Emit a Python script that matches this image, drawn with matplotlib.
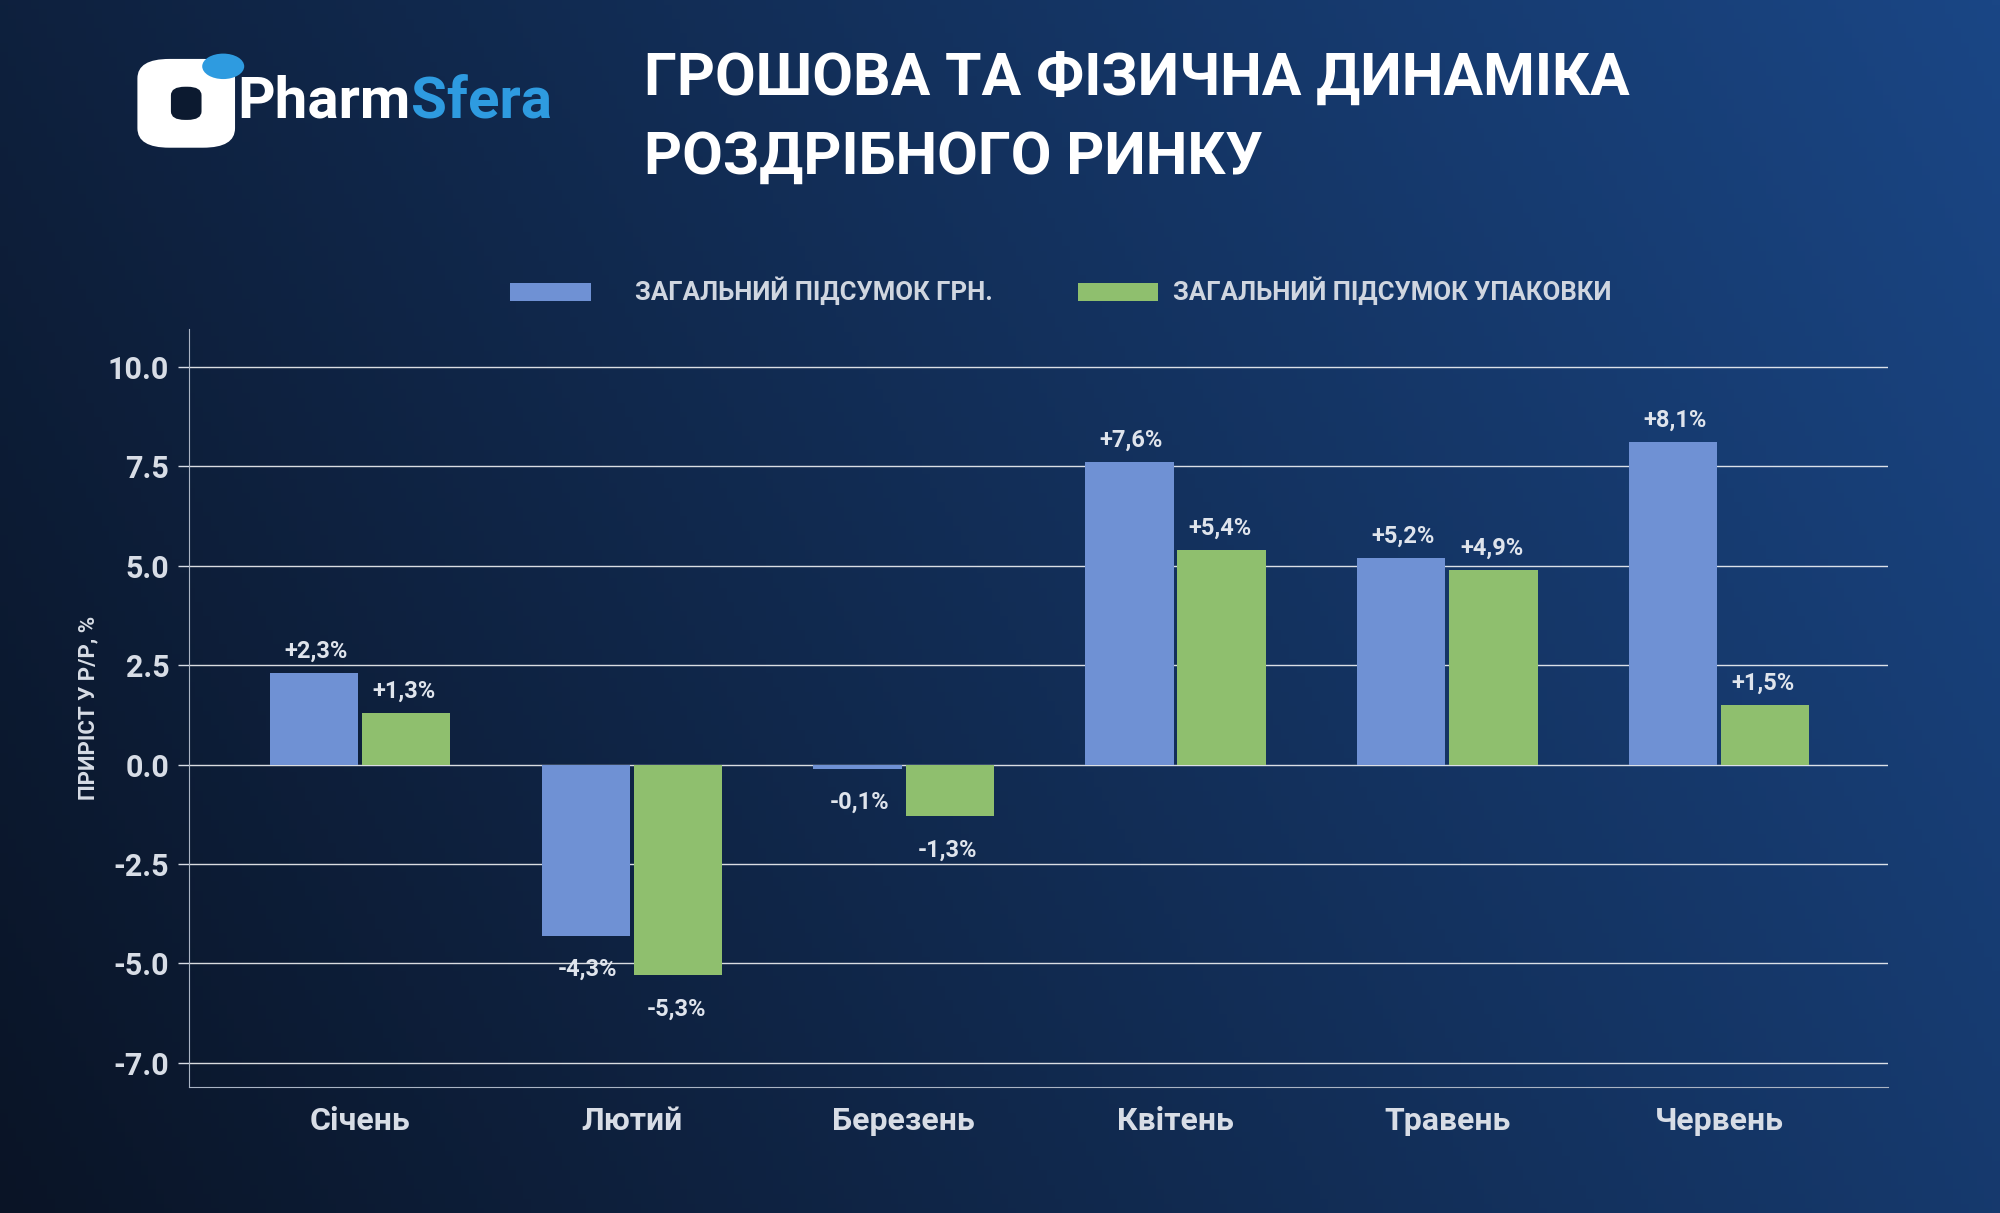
import matplotlib
matplotlib.use("Agg")
import matplotlib.pyplot as plt
import numpy as np
from matplotlib.patches import FancyBboxPatch, Circle, Rectangle

months = ["Січень", "Лютий", "Березень", "Квітень", "Травень", "Червень"]
uah = [2.3, -4.3, -0.1, 7.6, 5.2, 8.1]
packs = [1.3, -5.3, -1.3, 5.4, 4.9, 1.5]
uah_labels = ["+2,3%", "-4,3%", "-0,1%", "+7,6%", "+5,2%", "+8,1%"]
pack_labels = ["+1,3%", "-5,3%", "-1,3%", "+5,4%", "+4,9%", "+1,5%"]
yticks = [10.0, 7.5, 5.0, 2.5, 0.0, -2.5, -5.0, -7.5]
ytick_labels = ["10.0", "7.5", "5.0", "2.5", "0.0", "-2.5", "-5.0", "-7.0"]

plt.rcParams['font.family'] = ['Roboto', 'DejaVu Sans']
W, H = 1568, 951
fig = plt.figure(figsize=(20, 12.13), dpi=100)

bg = fig.add_axes([0, 0, 1, 1])
x = np.linspace(0, 1, 256)
y = np.linspace(0, 1, 256)
X, Y = np.meshgrid(x, y)
t = np.clip(0.75 * X + 0.25 * (1 - Y), 0, 1)
c0 = np.array([0x0a, 0x14, 0x26]) / 255
c1 = np.array([0x1a, 0x46, 0x85]) / 255
img = c0[None, None, :] * (1 - t[..., None]) + c1[None, None, :] * t[..., None]
bg.imshow(img, extent=[0, 1, 0, 1], aspect='auto', origin='upper')
bg.set_xlim(0, 1); bg.set_ylim(0, 1); bg.axis('off')

def fx(px): return px / W
def fy(py): return 1 - py / H

# logo
bg.add_patch(FancyBboxPatch((fx(114), fy(112)), fx(64), fy(50) - fy(112), boxstyle="round,pad=0.004,rounding_size=0.016",
                            fc='white', ec='none', transform=bg.transAxes))
bg.add_patch(FancyBboxPatch((fx(134), fy(94)), fx(24), fy(68) - fy(94), boxstyle="round,pad=0,rounding_size=0.007",
                            fc='#0c1a30', ec='none', transform=bg.transAxes))
bg.add_patch(Circle((fx(175), fy(52)), 0.0105, fc='#2e9be0', ec='none', transform=bg.transAxes))
tx = bg.text(fx(186), fy(80), "Pharm", color='white', fontsize=42, fontweight='bold', va='center', ha='left')
fig.canvas.draw()
bb = tx.get_window_extent().transformed(bg.transAxes.inverted())
bg.text(bb.x1, fy(80), "Sfera", color='#2e9be0', fontsize=42, fontweight='bold', va='center', ha='left')

bg.text(fx(505), fy(62), "ГРОШОВА ТА ФІЗИЧНА ДИНАМІКА", color='white', fontsize=42.5, fontweight='bold', va='center')
bg.text(fx(505), fy(124), "РОЗДРІБНОГО РИНКУ", color='white', fontsize=42.5, fontweight='bold', va='center')

blue, green = '#6f91d4', '#8fbf6e'
bg.add_patch(Rectangle((fx(400), fy(236)), fx(63), fy(222) - fy(236), fc=blue, ec='none'))
bg.text(fx(498), fy(228), "ЗАГАЛЬНИЙ ПІДСУМОК ГРН.", color='#d0d6e0', fontsize=18.5, fontweight='bold', va='center')
bg.add_patch(Rectangle((fx(845), fy(236)), fx(63), fy(222) - fy(236), fc=green, ec='none'))
bg.text(fx(920), fy(228), "ЗАГАЛЬНИЙ ПІДСУМОК УПАКОВКИ", color='#d0d6e0', fontsize=18.5, fontweight='bold', va='center')

ax = fig.add_axes([fx(148), fy(852), fx(1480) - fx(148), fy(258) - fy(852)])
ax.patch.set_alpha(0)
n = len(months)
xs = np.arange(n)
bw = 0.325
ax.bar(xs - bw / 2 - 0.007, uah, bw, color=blue, zorder=3)
ax.bar(xs + bw / 2 + 0.007, packs, bw, color=green, zorder=3)
for i in range(n):
    for xv, v, lab in [(xs[i] - bw / 2, uah[i], uah_labels[i]), (xs[i] + bw / 2, packs[i], pack_labels[i])]:
        off = 0.55 if v >= 0 else -0.85
        ax.text(xv, v + off, lab, color='#dfe4ec', fontsize=17, fontweight='bold', ha='center', va='center')
ax.set_xlim(-0.63, 5.62)
ax.set_ylim(-8.1, 10.95)
ax.set_yticks(yticks)
ax.set_yticklabels(ytick_labels)
ax.set_xticks(xs)
ax.set_xticklabels(months)
ax.grid(axis='y', color='white', linewidth=1.0, alpha=0.85, zorder=0)
ax.tick_params(axis='y', colors='#d8dde6', labelsize=22, length=8, width=1, pad=6)
ax.tick_params(axis='x', colors='#d8dde6', labelsize=23, length=0, pad=14)
for l in ax.get_yticklabels() + ax.get_xticklabels():
    l.set_fontweight('bold')
for s in ['top', 'right']:
    ax.spines[s].set_visible(False)
for s in ['left', 'bottom']:
    ax.spines[s].set_color('#aab4c4')
ax.set_ylabel("ПРИРІСТ У Р/Р, %", color='#d8dde6', fontsize=16, fontweight='bold', labelpad=6)

fig.savefig("out.png", dpi=100)
